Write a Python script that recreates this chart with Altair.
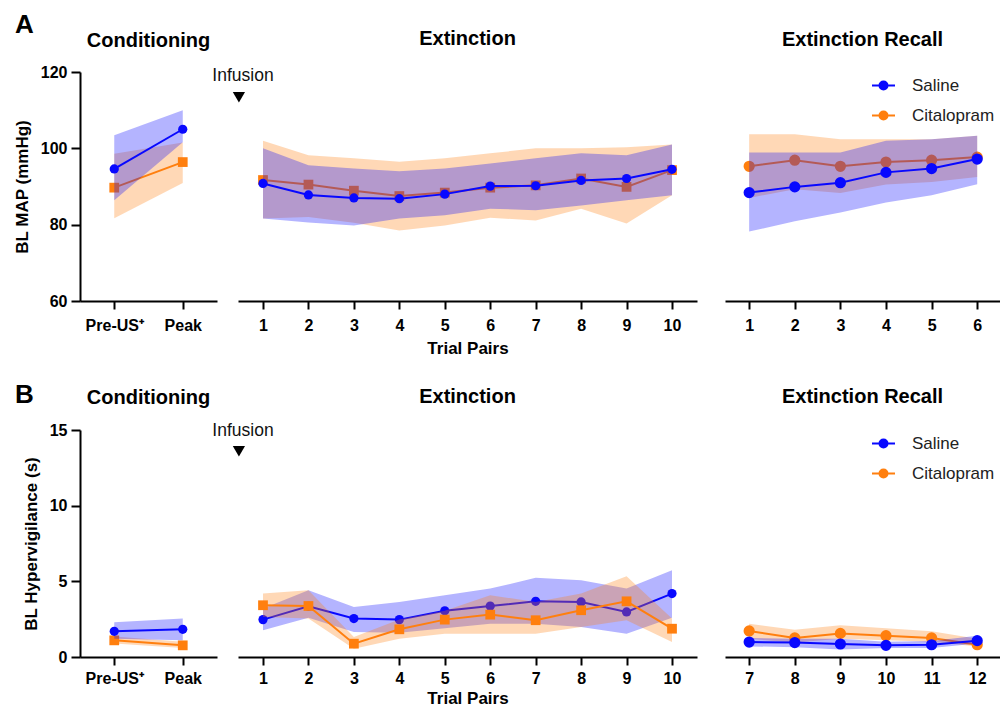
import altair as alt
import pandas as pd

FONT = "Liberation Sans"
BLUE = "#0808ff"
ORANGE = "#ff7f0e"
GROUPS = ["Saline", "Citalopram"]

# ---------------- data ----------------
phases = ["Pre-US⁺", "Peak"]
trials_ext = [1, 2, 3, 4, 5, 6, 7, 8, 9, 10]
trials_rec_a = [1, 2, 3, 4, 5, 6]
trials_rec_b = [7, 8, 9, 10, 11, 12]

# Panel A : BL MAP (mmHg)
a_cond_sal = [94.6, 105.0]
a_cond_sal_lo = [86.4, 101.6]
a_cond_sal_hi = [103.4, 110.0]
a_cond_cit = [89.7, 96.4]
a_cond_cit_lo = [81.7, 90.9]
a_cond_cit_hi = [98.6, 101.5]

a_ext_sal = [90.8, 87.8, 87.0, 86.8, 88.0, 90.1, 90.2, 91.6, 92.1, 94.5]
a_ext_sal_lo = [81.6, 80.6, 79.8, 81.6, 82.5, 84.2, 83.8, 85.0, 86.4, 87.7]
a_ext_sal_hi = [100.0, 95.6, 94.7, 94.0, 94.7, 96.0, 97.4, 98.7, 98.2, 101.0]
a_ext_cit = [91.7, 90.5, 88.9, 87.5, 88.4, 89.7, 90.3, 92.1, 89.9, 94.3]
a_ext_cit_lo = [81.6, 82.0, 80.5, 78.5, 79.8, 81.8, 81.1, 84.2, 80.3, 87.7]
a_ext_cit_hi = [102.0, 98.2, 97.4, 96.5, 97.4, 98.7, 100.0, 100.0, 100.3, 101.0]

a_rec_sal = [88.4, 89.9, 91.0, 93.7, 94.7, 97.2]
a_rec_sal_lo = [78.2, 80.9, 83.2, 85.8, 87.7, 90.6]
a_rec_sal_hi = [98.9, 98.9, 98.9, 102.0, 102.4, 103.3]
a_rec_cit = [95.3, 96.9, 95.3, 96.4, 96.9, 97.7]
a_rec_cit_lo = [87.0, 89.3, 88.3, 90.5, 91.2, 92.5]
a_rec_cit_hi = [103.7, 103.7, 102.4, 102.4, 102.4, 103.3]

# Panel B : BL Hypervigilance (s)
b_cond_sal = [1.70, 1.83]
b_cond_sal_lo = [1.20, 1.10]
b_cond_sal_hi = [2.30, 2.55]
b_cond_cit = [1.10, 0.77]
b_cond_cit_lo = [0.90, 0.60]
b_cond_cit_hi = [1.35, 1.00]

b_ext_sal = [2.47, 3.35, 2.54, 2.47, 3.05, 3.37, 3.68, 3.64, 2.98, 4.19]
b_ext_sal_lo = [1.76, 2.60, 1.66, 1.60, 1.90, 2.20, 2.20, 1.98, 1.54, 2.60]
b_ext_sal_hi = [3.20, 4.41, 3.31, 3.64, 4.08, 4.52, 5.23, 5.07, 4.52, 5.74]
b_ext_cit = [3.42, 3.37, 0.88, 1.83, 2.47, 2.80, 2.43, 3.09, 3.68, 1.87]
b_ext_cit_lo = [2.65, 2.54, 0.55, 1.21, 1.54, 1.54, 1.54, 1.98, 2.43, 0.99]
b_ext_cit_hi = [4.19, 4.41, 1.32, 2.47, 3.05, 4.08, 3.64, 4.19, 5.34, 2.54]

b_rec_sal = [0.99, 0.95, 0.86, 0.77, 0.81, 1.08]
b_rec_sal_lo = [0.70, 0.65, 0.50, 0.60, 0.60, 0.90]
b_rec_sal_hi = [1.25, 1.20, 1.20, 1.00, 1.05, 1.40]
b_rec_cit = [1.72, 1.26, 1.56, 1.41, 1.26, 0.81]
b_rec_cit_lo = [1.20, 0.95, 1.20, 1.10, 1.00, 0.70]
b_rec_cit_hi = [2.20, 1.80, 2.10, 1.90, 1.70, 1.20]

infusion_label = "Infusion"

# ---------------- helpers ----------------
LEGEND_PATH = "M-2.3,0H2.3M-0.8,0A0.8,0.8,0,1,0,0.8,0A0.8,0.8,0,1,0,-0.8,0Z"


def frame(xs, mean, lo, hi, group):
    return pd.DataFrame({"x": xs, "mean": mean, "lo": lo, "hi": hi, "group": group})


def panel(xs, sal, cit, kind, ydom, yvals, width, height, title, title_offset,
          sal_on_top=True, cit_shape="square", yaxis_title=None,
          xtitle=None, legend=False, infusion=None, label_pad=8, title_pad=7):
    if kind == "cond":
        xenc = lambda: alt.X("x:N", sort=phases, scale=alt.Scale(padding=0.5),
                             axis=alt.Axis(title=None, labelAngle=0, labelPadding=label_pad))
    else:
        dom = kind
        xenc = lambda: alt.X("x:Q", scale=alt.Scale(domain=dom, nice=False, zero=False),
                             axis=alt.Axis(title=xtitle, values=xs, format="d",
                                           labelPadding=label_pad, titlePadding=title_pad))
    if yaxis_title is not None:
        yax = alt.Axis(title=yaxis_title, values=yvals, labelPadding=4, tickSize=9,
                       titlePadding=9)
    else:
        yax = None
    yscale = alt.Scale(domain=ydom, nice=False, zero=False)

    def series(df, color, shape, size):
        band = alt.Chart(df).mark_area(color=color, opacity=0.3).encode(
            x=xenc(),
            y=alt.Y("lo:Q", scale=yscale, axis=yax, title=yaxis_title),
            y2="hi:Q",
        )
        line = alt.Chart(df).mark_line(color=color, strokeWidth=2).encode(
            x=xenc(), y=alt.Y("mean:Q", scale=yscale, axis=yax, title=yaxis_title)
        )
        if legend:
            cs = alt.Scale(domain=GROUPS, range=[BLUE, ORANGE])
            leg = alt.Legend(
                title=None, orient="top-right", offset=5, padding=0,
                symbolType=LEGEND_PATH, symbolSize=100, symbolStrokeWidth=2,
                labelOffset=20, rowPadding=12, labelFontSize=17, labelFont=FONT,
                labelColor="#222222",
            )
            pts = alt.Chart(df).mark_point(filled=True, opacity=1, size=size, shape=shape).encode(
                x=xenc(), y=alt.Y("mean:Q", scale=yscale, axis=yax, title=yaxis_title),
                fill=alt.Fill("group:N", scale=cs, legend=leg),
                stroke=alt.Stroke("group:N", scale=cs, legend=leg),
            )
        else:
            pts = alt.Chart(df).mark_point(filled=True, opacity=1, size=size, shape=shape,
                                           color=color).encode(
                x=xenc(), y=alt.Y("mean:Q", scale=yscale, axis=yax, title=yaxis_title)
            )
        return [band, line, pts]

    s_layers = series(frame(xs, *sal, "Saline"), BLUE, "circle", 85)
    c_layers = series(frame(xs, *cit, "Citalopram"), ORANGE, cit_shape,
                      85 if cit_shape == "circle" else 95)
    layers = (c_layers + s_layers) if sal_on_top else (s_layers + c_layers)

    if infusion is not None:
        ann = pd.DataFrame({"x": [infusion[0]], "y": [infusion[1]], "t": [infusion_label]})
        tri = pd.DataFrame({"x": [infusion[2]], "y": [infusion[3]]})
        layers.append(
            alt.Chart(ann).mark_text(font=FONT, fontSize=17.5, color="#111111", align="center",
                                     baseline="middle").encode(
                x=alt.X("x:Q"), y=alt.Y("y:Q"), text="t:N")
        )
        layers.append(
            alt.Chart(tri).mark_point(shape="triangle-down", filled=True, color="black",
                                      opacity=1, size=150).encode(x=alt.X("x:Q"), y=alt.Y("y:Q"))
        )

    return alt.layer(*layers).properties(
        width=width, height=height,
        title=alt.TitleParams(title, fontSize=20, fontWeight="bold", font=FONT,
                              color="black", offset=title_offset),
    )


HA = 229
HB = 227

a_left = panel(phases, (a_cond_sal, a_cond_sal_lo, a_cond_sal_hi),
               (a_cond_cit, a_cond_cit_lo, a_cond_cit_hi), "cond",
               [60, 120], [60, 80, 100, 120], 137, HA, "Conditioning", 13,
               yaxis_title="BL MAP (mmHg)")
a_mid = panel(trials_ext, (a_ext_sal, a_ext_sal_lo, a_ext_sal_hi),
              (a_ext_cit, a_ext_cit_lo, a_ext_cit_hi), [0.45, 10.55],
              [60, 120], None, 459, HA, "Extinction", 18, xtitle="Trial Pairs",
              infusion=(0.56, 118.9, 0.47, 113.4))
a_right = panel(trials_rec_a, (a_rec_sal, a_rec_sal_lo, a_rec_sal_hi),
                (a_rec_cit, a_rec_cit_lo, a_rec_cit_hi), [0.47, 6.5],
                [60, 120], None, 275, HA, "Extinction Recall", 22, cit_shape="circle",
                legend=True)

b_left = panel(phases, (b_cond_sal, b_cond_sal_lo, b_cond_sal_hi),
               (b_cond_cit, b_cond_cit_lo, b_cond_cit_hi), "cond",
               [0, 15], [0, 5, 10, 15], 137, HB, "Conditioning", 14,
               yaxis_title="BL Hypervigilance (s)", label_pad=5)
b_mid = panel(trials_ext, (b_ext_sal, b_ext_sal_lo, b_ext_sal_hi),
              (b_ext_cit, b_ext_cit_lo, b_ext_cit_hi), [0.45, 10.55],
              [0, 15], None, 459, HB, "Extinction", 15, xtitle="Trial Pairs",
              sal_on_top=False, infusion=(0.56, 14.95, 0.47, 13.6),
              label_pad=5, title_pad=4)
b_right = panel(trials_rec_b, (b_rec_sal, b_rec_sal_lo, b_rec_sal_hi),
                (b_rec_cit, b_rec_cit_lo, b_rec_cit_hi), [6.47, 12.5],
                [0, 15], None, 275, HB, "Extinction Recall", 23, cit_shape="circle",
                legend=True, label_pad=5)

RES = dict(fill="independent", stroke="independent")


def row(left, mid, right, label, label_offset):
    inner = alt.hconcat(mid, right, spacing=28, bounds="flush").resolve_scale(**RES)
    return alt.hconcat(left, inner, spacing=21, bounds="flush").resolve_scale(**RES).properties(
        title=alt.TitleParams(label, anchor="start", frame="group", fontSize=26,
                              fontWeight="bold", font=FONT, color="black", dx=-65,
                              offset=label_offset)
    )


chart = alt.vconcat(row(a_left, a_mid, a_right, "A", -9),
                    row(b_left, b_mid, b_right, "B", -21),
                    spacing=25).resolve_scale(**RES).properties(
    padding={"left": 13, "top": 12, "right": 0, "bottom": 3}
).configure_view(stroke=None).configure_axis(
    labelFont=FONT, labelFontSize=16, labelFontWeight="bold", labelColor="black",
    titleFont=FONT, titleFontSize=17, titleFontWeight="bold", titleColor="black",
    domainColor="black", domainWidth=2, tickColor="black", tickWidth=2, tickSize=8,
    grid=False,
)

chart.save("out.html", embed_options={"renderer": "svg", "actions": False})
